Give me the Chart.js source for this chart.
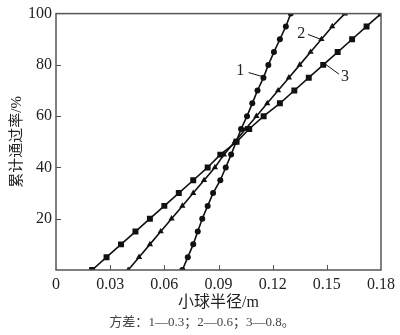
<!DOCTYPE html>
<html>
<head>
<meta charset="utf-8">
<script src="https://cdn.jsdelivr.net/npm/chart.js@4"></script>
<style>
  html, body { margin: 0; padding: 0; background: #fff; }
  #wrap { width: 400px; height: 335px; }
</style>
</head>
<body>
<div id="wrap"><canvas id="chart" width="400" height="335"></canvas></div>
<script>
// cumulative passing rate (%) - same for all three curves
const passRate = [0, 5, 10, 15, 20, 25, 30, 35, 40, 45, 50, 55, 60, 65, 70, 75, 80, 85, 90, 95, 100];

// ball radius (m)
const radius1 = [0.070, 0.073, 0.076, 0.0785, 0.081, 0.084, 0.087, 0.091, 0.094, 0.097, 0.0998,
                 0.1025, 0.1058, 0.1087, 0.1116, 0.1149, 0.1176, 0.1207, 0.124, 0.1273, 0.130];
const radius2 = [0.040, 0.046, 0.052, 0.058, 0.064, 0.070, 0.076, 0.082, 0.088, 0.093, 0.099,
                 0.105, 0.111, 0.117, 0.123, 0.129, 0.135, 0.141, 0.147, 0.153, 0.160];
const radius3 = [0.020, 0.028, 0.036, 0.044, 0.052, 0.060, 0.068, 0.076, 0.084, 0.091, 0.100,
                 0.107, 0.115, 0.124, 0.132, 0.140, 0.148, 0.156, 0.164, 0.172, 0.180];

const xTicks = [0, 0.03, 0.06, 0.09, 0.12, 0.15, 0.18];
const yTicks = [0, 20, 40, 60, 80, 100];

const xTitle = "小球半径/m";
const yTitle = "累计通过率/%";
const note = "方差：1—0.3；2—0.6；3—0.8。";

// curve labels: [text, label x, label y, leader from x, y, to x, y] in data units
const curveLabels = [
  ["1", 0.102, 77.7, 0.1067, 77.0, 0.1145, 75.4],
  ["2", 0.1358, 92.0, 0.1395, 91.9, 0.1476, 89.7],
  ["3", 0.160, 75.5, 0.1482, 80.8, 0.1567, 76.4]
];

const serif = "'Liberation Serif', 'Noto Sans CJK SC', serif";
const cjk = "'Liberation Serif', 'Noto Sans CJK SC', sans-serif";
const axisColor = "#555";
const textColor = "#222";

function toPoints(xs) {
  return xs.map((x, i) => ({ x: x, y: passRate[i] }));
}

const extras = {
  id: "extras",
  afterDraw(chart) {
    const { ctx, chartArea: a, scales: { x, y } } = chart;
    ctx.save();
    // frame
    ctx.strokeStyle = axisColor;
    ctx.lineWidth = 1.5;
    ctx.strokeRect(a.left, a.top, a.right - a.left, a.bottom - a.top);
    // inward ticks
    ctx.beginPath();
    xTicks.slice(1, -1).forEach(v => {
      const px = Math.round(x.getPixelForValue(v)) + 0.5;
      ctx.moveTo(px, a.bottom);
      ctx.lineTo(px, a.bottom - 5);
    });
    yTicks.slice(1, -1).forEach(v => {
      const py = Math.round(y.getPixelForValue(v)) + 0.5;
      ctx.moveTo(a.left, py);
      ctx.lineTo(a.left + 5, py);
    });
    ctx.lineWidth = 1;
    ctx.stroke();

    // curve labels
    ctx.fillStyle = textColor;
    ctx.strokeStyle = "#111";
    ctx.lineWidth = 1;
    ctx.font = "16px " + serif;
    ctx.textAlign = "center";
    ctx.textBaseline = "middle";
    curveLabels.forEach(([t, lx, ly, x0, y0, x1, y1]) => {
      ctx.fillText(t, x.getPixelForValue(lx), y.getPixelForValue(ly));
      ctx.beginPath();
      ctx.moveTo(x.getPixelForValue(x0), y.getPixelForValue(y0));
      ctx.lineTo(x.getPixelForValue(x1), y.getPixelForValue(y1));
      ctx.stroke();
    });

    // x title and note
    ctx.font = "16px " + cjk;
    ctx.fillText(xTitle, (a.left + a.right) / 2, 303);
    ctx.fillStyle = "#444";
    ctx.font = "13px " + cjk;
    ctx.fillText(note, 202, 323);
    ctx.restore();
  }
};

const lineStyle = {
  borderColor: "#111",
  backgroundColor: "#111",
  borderWidth: 1.6,
  pointBorderWidth: 0,
  tension: 0
};

new Chart(document.getElementById("chart").getContext("2d"), {
  type: "scatter",
  data: {
    datasets: [
      Object.assign({ label: "1", data: toPoints(radius1), showLine: true, pointStyle: "circle", pointRadius: 3 }, lineStyle),
      Object.assign({ label: "2", data: toPoints(radius2), showLine: true, pointStyle: "triangle", pointRadius: 3.6 }, lineStyle),
      Object.assign({ label: "3", data: toPoints(radius3), showLine: true, pointStyle: "rect", pointRadius: 4.2 }, lineStyle)
    ]
  },
  options: {
    responsive: false,
    animation: false,
    layout: { padding: { top: 6, right: 14, left: 8, bottom: 0 } },
    plugins: {
      legend: { display: false },
      tooltip: { enabled: false }
    },
    scales: {
      x: {
        type: "linear",
        min: 0,
        max: 0.18,
        afterBuildTicks(scale) {
          scale.ticks = xTicks.map(v => ({ value: v }));
        },
        afterFit(scale) { scale.height = 65; },
        border: { display: false },
        grid: { drawOnChartArea: false, drawTicks: false },
        ticks: {
          padding: 5,
          color: textColor,
          font: { family: serif, size: 16 },
          maxRotation: 0,
          callback: v => (v === 0 ? "0" : v.toFixed(2))
        }
      },
      y: {
        type: "linear",
        min: 0,
        max: 100,
        afterBuildTicks(scale) {
          scale.ticks = yTicks.map(v => ({ value: v }));
        },
        afterFit(scale) { scale.width = 48; },
        border: { display: false },
        grid: { drawOnChartArea: false, drawTicks: false },
        title: {
          display: true,
          text: yTitle,
          color: textColor,
          font: { family: cjk, size: 15 },
          padding: 0
        },
        ticks: {
          padding: 4,
          color: textColor,
          font: { family: serif, size: 16 },
          callback: v => (v === 0 ? "" : String(v))
        }
      }
    }
  },
  plugins: [extras]
});
</script>
</body>
</html>
